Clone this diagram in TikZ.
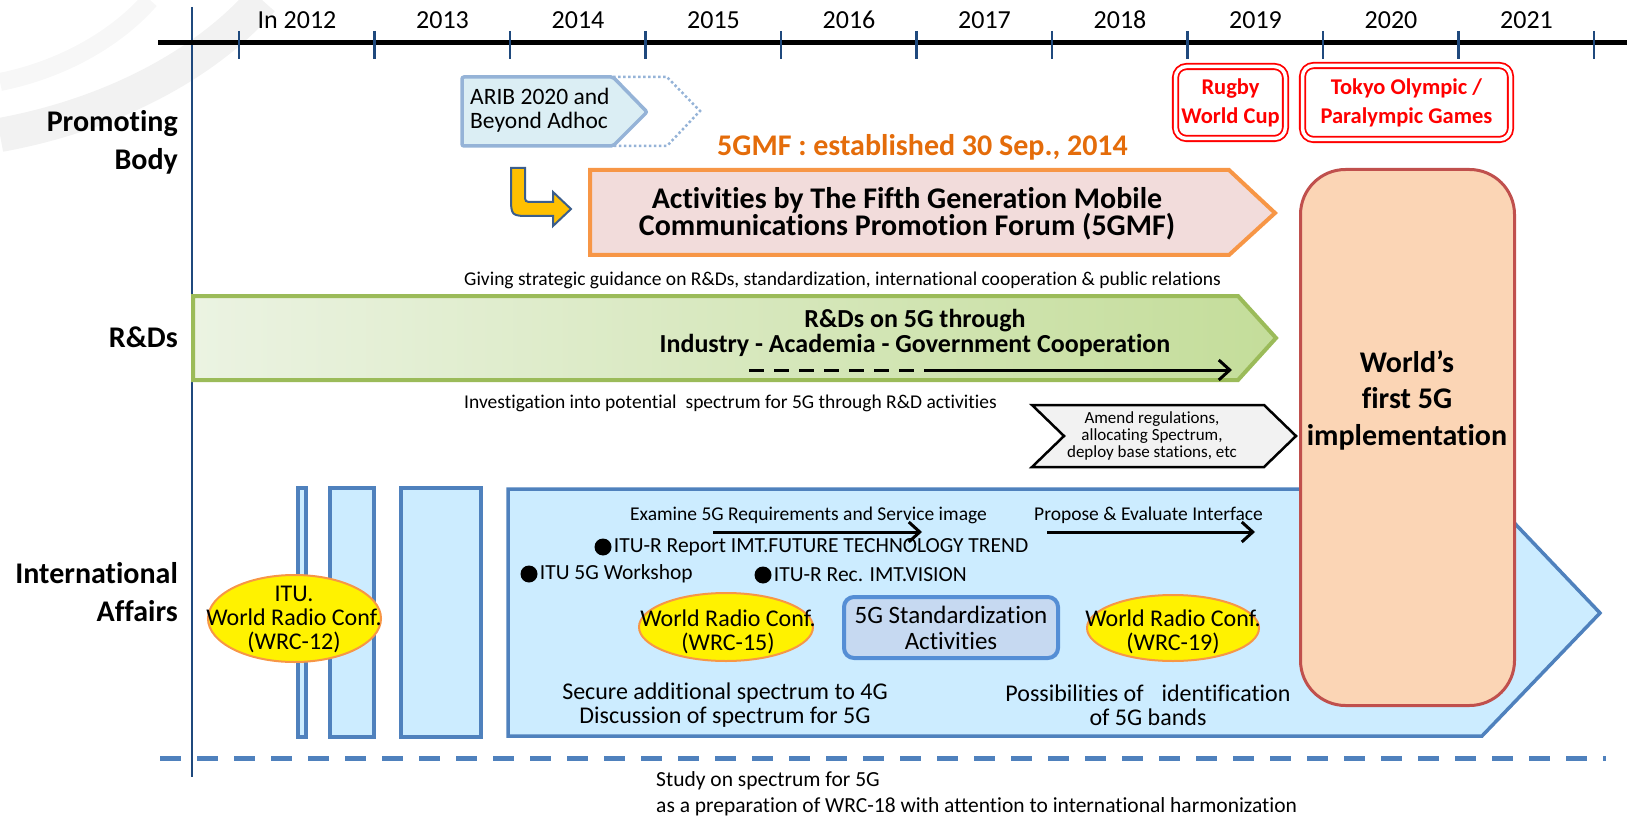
\documentclass[tikz,border=0pt]{standalone}
\usepackage{fontspec}
\setmainfont{Carlito}[Ligatures={TeX,NoCommon}]
\usetikzlibrary{positioning,shapes.geometric,arrows.meta}

\definecolor{axisblue}{HTML}{1F497D}
\definecolor{intlfill}{HTML}{CCECFF}
\definecolor{intlline}{HTML}{4F81BD}
\definecolor{aribfill}{HTML}{DBEEF4}
\definecolor{aribline}{HTML}{95B3D7}
\definecolor{gmffill}{HTML}{F2DCDB}
\definecolor{gmfline}{HTML}{F79646}
\definecolor{gmftext}{HTML}{E46C0A}
\definecolor{rdleft}{HTML}{EBF3E2}
\definecolor{rdright}{HTML}{C4DD9A}
\definecolor{rdline}{HTML}{9BBB59}
\definecolor{amendfill}{HTML}{F2F2F2}
\definecolor{stdfill}{HTML}{C6D9F1}
\definecolor{stdline}{HTML}{558ED5}
\definecolor{wfill}{HTML}{FBD5B5}
\definecolor{wline}{HTML}{C0504D}
\definecolor{wrcline}{HTML}{F79646}
\definecolor{gold}{HTML}{FFC000}
\definecolor{goldline}{HTML}{3B5E8C}

\begin{document}
\begin{tikzpicture}[x=1pt, y=-1pt,
    rowlbl/.style={font=\bfseries\fontsize{30}{38}\selectfont, align=right, anchor=east, inner sep=0pt},
    yearlbl/.style={font=\fontsize{26}{30}\selectfont, inner sep=0pt},
    smalltxt/.style={font=\fontsize{19.5}{24}\selectfont, anchor=west, inner sep=0pt},
    bullettxt/.style={font=\fontsize{21.5}{24}\selectfont, inner sep=0pt},
    bodytxt/.style={font=\fontsize{24}{24}\selectfont, align=center, inner sep=0pt},
    eventbox/.style={draw=red, double=white, double distance=3.5pt, line width=1.8pt, rounded corners=11pt,
        text=red, font=\bfseries\fontsize{22.5}{29}\selectfont, align=center, inner sep=0pt},
    wrcoval/.style={ellipse, fill=yellow, draw=wrcline, line width=2pt, inner sep=0pt},
    intlbar/.style={fill=intlfill, draw=intlline, line width=3.5pt},
    blackdot/.style={circle, fill=black, inner sep=0pt, minimum size=17pt},
    barb/.style={line width=3pt, -{Straight Barb[length=11pt, width=20pt]}},
    tickmark/.style={draw=axisblue, line width=2.5pt}]
    \useasboundingbox (0,0) rectangle (1627,818);

    % faint logo in the corner
    \draw[black!5, line width=34pt] (262,0) .. controls (205,65) and (110,115) .. (0,135);
    \draw[black!3, line width=18pt] (150,0) .. controls (115,40) and (60,70) .. (0,82);

    % time axis
    \draw[axisblue, line width=2.5pt] (192,7) -- (192,777);
    \draw[black, line width=5pt] (158,43) -- (1627,43);
    \foreach \k in {0,...,10}
        \draw[tickmark] ({239+135.5*\k},31) -- ({239+135.5*\k},59);
    \node[yearlbl] (y2012) at (297,20) {In 2012};
    \foreach \yr in {2013,...,2021}
        \node[yearlbl] (y\yr) at ({307+135.5*(\yr-2012)},20) {\yr};

    % row labels
    \node[rowlbl] (promo) at (178,142.5) {Promoting\\Body};
    \node[rowlbl] (rnd) at (178,337) {R\&Ds};
    \node[rowlbl] (intl) at (178,592.5) {International\\Affairs};

    % promoting body
    \draw[aribline, line width=2.5pt, dash pattern=on 2.5pt off 2.5pt] (613,77) -- (667,77) -- (700,111) -- (667,146) -- (613,146);
    \draw[fill=aribfill, draw=aribline, line width=3.5pt, rounded corners=2pt] (462,77) -- (613,77) -- (647,112) -- (613,146) -- (462,146) -- cycle;
    \node[font=\fontsize{23.5}{24}\selectfont, align=left, anchor=west, inner sep=0pt] (arib) at (470,110) {ARIB 2020 and\\Beyond Adhoc};
    \draw[fill=gold, draw=goldline, line width=2pt] (511,168) -- (511,196) .. controls (511,216) .. (531,216) -- (553,216) -- (553,226)
        -- (571,209) -- (553,192) -- (553,202) -- (533,202) .. controls (525,202) .. (525,194) -- (525,168) -- cycle;
    \node[font=\bfseries\fontsize{30}{30}\selectfont, text=gmftext, anchor=west, inner sep=0pt] (est) at (717,147) {5GMF : established 30 Sep., 2014};
    \draw[fill=gmffill, draw=gmfline, line width=4pt] (590,170) -- (1229,170) -- (1275,213) -- (1229,255) -- (590,255) -- cycle;
    \node[font=\bfseries\fontsize{30}{27}\selectfont, align=center, inner sep=0pt] (gmf) at (907,213.5)
        {Activities by The Fifth Generation Mobile\\Communications Promotion Forum (5GMF)};
    \node[eventbox, minimum width=110pt, minimum height=72pt] (rugby) at (1230.5,102.5) {Rugby\\World Cup};
    \node[eventbox, minimum width=208pt, minimum height=74pt] (tokyo) at (1406.5,102.5) {Tokyo Olympic /\\Paralympic Games};

    % R&Ds
    \node[smalltxt] (guide) at (464,280) {Giving strategic guidance on R\&Ds, standardization, international cooperation \& public relations};
    \draw[draw=rdline, line width=4pt, left color=rdleft, right color=rdright] (193,296) -- (1238,296) -- (1276,338) -- (1238,380) -- (193,380) -- cycle;
    \node[font=\bfseries\fontsize{26}{25}\selectfont, align=center, inner sep=0pt] (rdtxt) at (915,332.5)
        {R\&Ds on 5G through\\Industry - Academia - Government Cooperation};
    \coordinate (dsA) at (749,370);
    \coordinate (dsM) at (925,370);
    \coordinate (dsB) at (1232,370);
    \draw[line width=3pt, dash pattern=on 15pt off 10pt] (dsA) -- (dsM);
    \draw[barb] (dsM) -- (dsB);
    \node[smalltxt] (invest) at (464,403) {Investigation into potential\hspace{9pt}spectrum for 5G through R\&D activities};
    \draw[fill=amendfill, draw=black, line width=2.5pt] (1032,405) -- (1264,405) -- (1296,436) -- (1264,467) -- (1032,467) -- (1064,436) -- cycle;
    \node[font=\fontsize{17}{17}\selectfont, align=center, inner sep=0pt] (amend) at (1152,436)
        {Amend regulations,\\allocating Spectrum,\\deploy base stations, etc};

    % international affairs
    \draw[intlbar] (298,488) rectangle (306,737);
    \draw[intlbar] (330,488) rectangle (374,737);
    \draw[intlbar] (401,488) rectangle (481,737);
    \draw[intlbar] (508,489) -- (1482,489) -- (1600,613) -- (1482,736) -- (508,736) -- cycle;
    \node[wrcoval, minimum width=173pt, minimum height=87pt] (wrc12) at (294.5,618.5) {};
    \node[bodytxt] (wrc12txt) at (294,619) {ITU.\\World Radio Conf.\\(WRC-12)};
    \node[smalltxt] (examine) at (630,515) {Examine 5G Requirements and Service image};
    \node[smalltxt] (propose) at (1034,515) {Propose \& Evaluate Interface};
    \coordinate (exA) at (713,532);
    \coordinate (exB) at (922,532);
    \coordinate (prA) at (1047,532);
    \coordinate (prB) at (1255,532);
    \draw[barb] (exA) -- (exB);
    \draw[barb] (prA) -- (prB);
    \node[blackdot] (dotrep) at (603,547) {};
    \node[bullettxt, right=2pt of dotrep] (report) {ITU-R Report IMT.FUTURE TECHNOLOGY TREND};
    \node[blackdot] (dotws) at (529,574) {};
    \node[bullettxt, right=2pt of dotws] (workshop) {ITU 5G Workshop};
    \node[blackdot] (dotvis) at (763,575) {};
    \node[bullettxt, right=2pt of dotvis] (vision) {ITU-R Rec. IMT.VISION};
    \node[wrcoval, minimum width=174pt, minimum height=68pt] (wrc15) at (726,627) {};
    \node[bodytxt] (wrc15txt) at (728,632) {World Radio Conf.\\(WRC-15)};
    \node[draw=stdline, fill=stdfill, line width=4pt, rounded corners=10pt, minimum width=214pt, minimum height=61pt,
        font=\fontsize{25}{26}\selectfont, align=center, inner sep=0pt] (std) at (951,627.5) {5G Standardization\\Activities};
    \node[wrcoval, minimum width=172pt, minimum height=66pt] (wrc19) at (1173,628) {};
    \node[bodytxt] (wrc19txt) at (1173,632) {World Radio Conf.\\(WRC-19)};
    \node[bodytxt] (secure) at (725,705) {Secure additional spectrum to 4G\\Discussion of spectrum for 5G};
    \node[bodytxt] (bands) at (1148,705) {Possibilities of\hspace{18pt}identification\\of 5G bands};

    % first 5G
    \node[draw=wline, fill=wfill, line width=3pt, rounded corners=45pt, minimum width=214pt, minimum height=536pt] (first5g) at (1407.5,437.5) {};
    \node[font=\bfseries\fontsize{30}{36.5}\selectfont, align=center, inner sep=0pt] (first5gtxt) at (1407,400) {World's\\first 5G\\implementation};

    % spectrum study
    \coordinate (spA) at (160,758);
    \coordinate (spB) at (1606,758);
    \draw[intlline, line width=5pt, dash pattern=on 21pt off 16pt] (spA) -- (spB);
    \node[font=\fontsize{21.5}{26}\selectfont, align=left, anchor=west, inner sep=0pt] (study) at (656,794)
        {Study on spectrum for 5G\\as a preparation of WRC-18 with attention to international harmonization};
\end{tikzpicture}
\end{document}
